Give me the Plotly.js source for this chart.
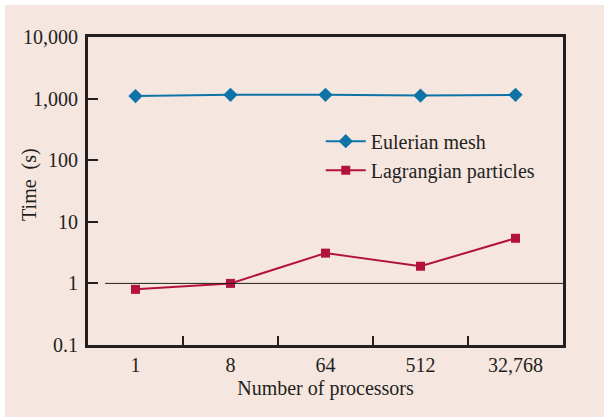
<!DOCTYPE html>
<html>
<head>
<meta charset="utf-8">
<script src="https://cdn.plot.ly/plotly-3.0.1.min.js"></script>
<style>
  html, body { margin: 0; padding: 0; background: #ffffff; }
  #chart { position: absolute; left: 5px; top: 5px; width: 599px; height: 412px; }
</style>
</head>
<body>
<div id="chart"></div>
<script>
const processors = ['1', '8', '64', '512', '32,768'];
const eulerianMesh = [1100, 1150, 1150, 1120, 1150];
const lagrangianParticles = [0.8, 1.0, 3.1, 1.9, 5.4];
const yTickVals = [0.1, 1, 10, 100, 1000, 10000];
const yTickText = ['0.1', '1', '10', '100', '1,000', '10,000'];

const ink = '#231f20';
const fontFam = '"Liberation Serif", "Times New Roman", serif';
const fs = 20;

const traces = [
  {
    x: processors, y: eulerianMesh, name: 'Eulerian mesh',
    type: 'scatter', mode: 'lines+markers',
    line: { color: '#0e74a8', width: 2 },
    marker: { symbol: 'diamond', size: 11, color: '#0e74a8' }
  },
  {
    x: processors, y: lagrangianParticles, name: 'Lagrangian particles',
    type: 'scatter', mode: 'lines+markers',
    line: { color: '#b3123f', width: 2 },
    marker: { symbol: 'square', size: 9, color: '#b3123f' }
  }
];

const layout = {
  width: 599, height: 412,
  margin: { l: 83, r: 41, t: 32, b: 72 },
  paper_bgcolor: '#f6e6e0',
  plot_bgcolor: 'rgba(0,0,0,0)',
  font: { family: fontFam, size: fs, color: ink },
  showlegend: true,
  legend: {
    x: 0.49, y: 0.725, xanchor: 'left', yanchor: 'top',
    bgcolor: 'rgba(0,0,0,0)', borderwidth: 0,
    font: { family: fontFam, size: fs, color: ink },
    itemwidth: 40, tracegroupgap: 0
  },
  xaxis: {
    type: 'category', range: [-0.5, 4.5],
    showgrid: false, zeroline: false,
    showline: true, mirror: true, linecolor: ink, linewidth: 3,
    ticks: 'inside', tickson: 'boundaries', ticklen: 9, tickwidth: 2, tickcolor: ink,
    tickfont: { family: fontFam, size: fs, color: ink },
    title: { text: 'Number of processors', font: { family: fontFam, size: fs, color: ink }, standoff: 6 },
    fixedrange: true
  },
  yaxis: {
    type: 'log', range: [-1, 4],
    tickvals: yTickVals, ticktext: yTickText,
    showgrid: false, zeroline: false,
    showline: true, mirror: true, linecolor: ink, linewidth: 3,
    ticks: 'inside', ticklen: 10, tickwidth: 2, tickcolor: ink,
    ticklabelstandoff: 3,
    tickfont: { family: fontFam, size: fs, color: ink },
    fixedrange: true
  },
  shapes: [
    { type: 'line', xref: 'paper', yref: 'y', x0: 0.036, x1: 1, y0: 1, y1: 1,
      line: { color: ink, width: 1 } }
  ],
  annotations: [
    { text: 'Time\u00a0\u00a0(s)', xref: 'paper', yref: 'paper', x: -0.122, y: 0.52,
      textangle: -90, showarrow: false, xanchor: 'center', yanchor: 'middle',
      font: { family: fontFam, size: fs, color: ink } }
  ]
};

Plotly.newPlot('chart', traces, layout, { displayModeBar: false, staticPlot: true });
</script>
</body>
</html>
